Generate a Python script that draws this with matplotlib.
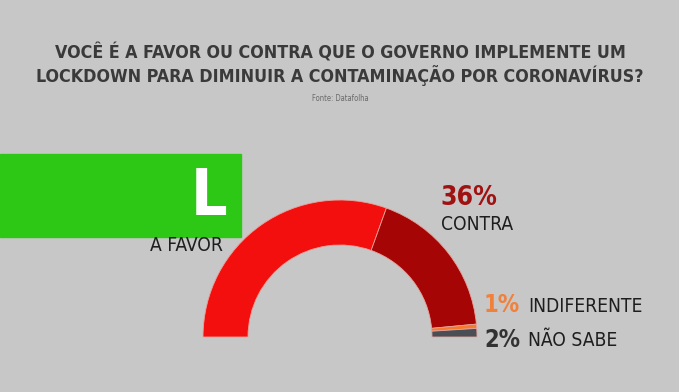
import matplotlib.pyplot as plt
from matplotlib.patches import Rectangle

# dados (Datafolha)
categorias = ["A FAVOR", "CONTRA", "INDIFERENTE", "NÃO SABE"]
valores = [61, 36, 1, 2]
cores = ["#f40f0f", "#a50505", "#f47a2c", "#4a4e55"]

titulo = ["VOCÊ É A FAVOR OU CONTRA QUE O GOVERNO IMPLEMENTE UM",
          "LOCKDOWN PARA DIMINUIR A CONTAMINAÇÃO POR CORONAVÍRUS?"]
fonte_txt = "Fonte: Datafolha"

FONT = dict(family="DejaVu Sans", stretch="condensed")

fig = plt.figure(figsize=(6.79, 3.92), dpi=100)
fig.patch.set_facecolor("#c7c7c7")
ax = fig.add_axes([0, 0, 1, 1])
ax.set_facecolor("#c7c7c7")

# meia rosca: metade de baixo invisivel
W, H = 679, 392
vals = valores + [sum(valores)]
wedges, _ = ax.pie(vals, colors=cores + ["none"], startangle=180,
                   counterclock=False, center=(340, H - 337), radius=137,
                   wedgeprops=dict(width=45, linewidth=0))
for w in wedges[:-1]:
    w.set_edgecolor("#e7a49c")
    w.set_linewidth(0.6)
ax.set_xlim(0, W)
ax.set_ylim(0, H)
ax.set_aspect("auto")
ax.axis("off")

# titulo
ax.text(340, H - 53, titulo[0], ha="center", va="center", fontsize=12.8,
        fontweight="bold", color="#3a3a3a", **FONT)
ax.text(340, H - 76, titulo[1], ha="center", va="center", fontsize=12.8,
        fontweight="bold", color="#3a3a3a", **FONT)
ax.text(340, H - 98, fonte_txt, ha="center", va="center", fontsize=5.5,
        color="#6a6a6a", **FONT)

# caixa verde do logo
ax.add_patch(Rectangle((0, H - 237), 241, 83, color="#2dc816", zorder=3))
ax.text(209, H - 197, "L", ha="center", va="center", fontsize=46,
        fontweight="bold", color="white", zorder=4, **FONT)

# rotulos
ax.text(150, H - 245, categorias[0], ha="left", va="center", fontsize=13.8,
        color="#1e1e1e", **FONT)
ax.text(440, H - 198, f"{valores[1]}%", ha="left", va="center", fontsize=19,
        fontweight="bold", color="#a01212", **FONT)
ax.text(441, H - 224, categorias[1], ha="left", va="center", fontsize=13.8,
        color="#1e1e1e", **FONT)
ax.text(484, H - 305, f"{valores[2]}%", ha="left", va="center", fontsize=17,
        fontweight="bold", color="#f0803a", **FONT)
ax.text(528, H - 306, categorias[2], ha="left", va="center", fontsize=13.8,
        color="#1e1e1e", **FONT)
ax.text(484, H - 340, f"{valores[3]}%", ha="left", va="center", fontsize=17,
        fontweight="bold", color="#333333", **FONT)
ax.text(528, H - 341, categorias[3], ha="left", va="center", fontsize=13.8,
        color="#1e1e1e", **FONT)

plt.savefig("out.png", dpi=100, facecolor=fig.get_facecolor())
